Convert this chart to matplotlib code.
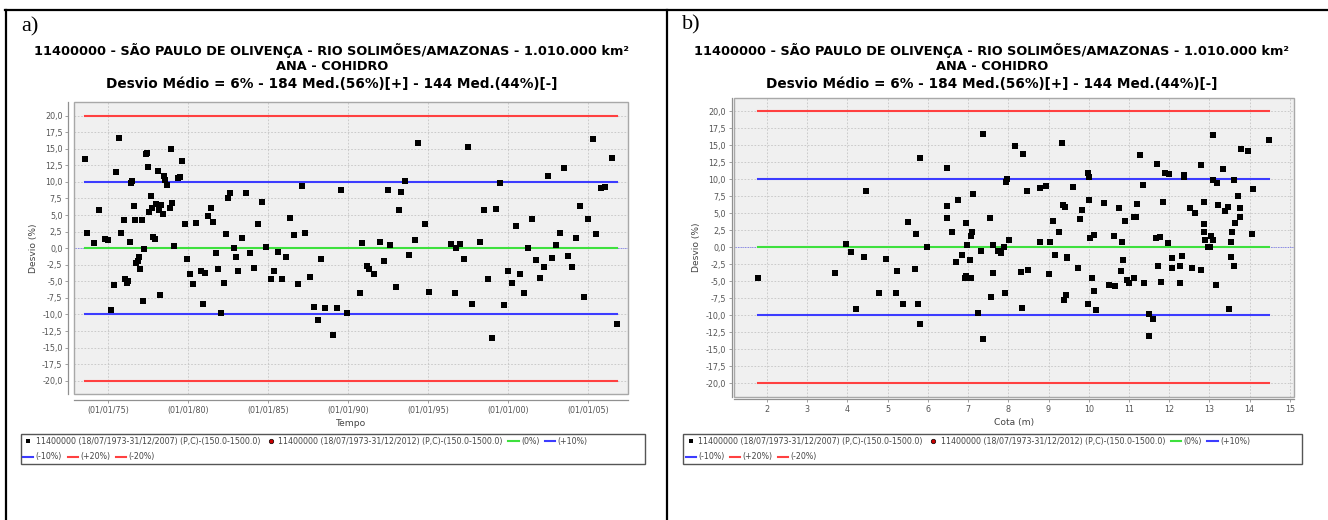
import matplotlib
matplotlib.use('Agg')
import matplotlib.pyplot as plt
from matplotlib.lines import Line2D
from matplotlib.patches import Rectangle
import numpy as np

# --- data ---
ano_a = [1973.56, 1973.69, 1974.13, 1974.44, 1974.79, 1974.96, 1975.19, 1975.33, 1975.50, 1975.67,
         1975.81, 1975.98, 1976.06, 1976.15, 1976.23, 1976.33, 1976.42, 1976.50, 1976.60, 1976.69,
         1976.75, 1976.83, 1976.90, 1977.00, 1977.08, 1977.17, 1977.25, 1977.33, 1977.42, 1977.50,
         1977.56, 1977.65, 1977.73, 1977.81, 1977.90, 1978.00, 1978.08, 1978.17, 1978.23, 1978.31,
         1978.40, 1978.48, 1978.56, 1978.67, 1978.83, 1978.92, 1979.00, 1979.08, 1979.33, 1979.46,
         1979.63, 1979.81, 1979.94, 1980.13, 1980.29, 1980.46, 1980.77, 1980.94, 1981.06, 1981.21,
         1981.40, 1981.56, 1981.71, 1981.88, 1982.04, 1982.23, 1982.38, 1982.46, 1982.58, 1982.85,
         1982.98, 1983.10, 1983.33, 1983.58, 1983.85, 1984.13, 1984.33, 1984.60, 1984.85, 1985.15,
         1985.35, 1985.63, 1985.88, 1986.10, 1986.35, 1986.60, 1986.85, 1987.10, 1987.33, 1987.60,
         1987.85, 1988.13, 1988.31, 1988.56, 1989.06, 1989.33, 1989.58, 1989.92, 1990.75, 1990.88,
         1991.19, 1991.29, 1991.63, 1991.98, 1992.21, 1992.46, 1992.60, 1992.96, 1993.17, 1993.29,
         1993.54, 1993.79, 1994.15, 1994.38, 1994.81, 1995.06, 1996.40, 1996.67, 1996.75, 1997.02,
         1997.27, 1997.50, 1997.77, 1998.25, 1998.50, 1998.73, 1999.00, 1999.27, 1999.52, 1999.75,
         2000.02, 2000.27, 2000.50, 2000.75, 2000.98, 2001.25, 2001.50, 2001.77, 2002.00, 2002.25,
         2002.48, 2002.75, 2003.00, 2003.27, 2003.50, 2003.75, 2004.02, 2004.27, 2004.52, 2004.77,
         2005.02, 2005.29, 2005.52, 2005.81, 2006.06, 2006.48, 2006.79]
desvio_a = [13.5, 2.3, 0.8, 5.8, 1.4, 1.2, -9.4, -5.6, 11.5, 16.6,
            2.3, 4.3, -4.6, -5.3, -4.9, 0.9, 9.8, 10.2, 6.4, 4.3,
            -2.3, -2.0, -1.4, -3.1, 4.2, -7.9, -0.1, 14.2, 14.4, 12.3,
            5.5, 7.9, 6.1, 1.7, 1.4, 6.7, 11.6, 5.8, -7.1, 6.5,
            5.2, 10.9, 10.3, 9.6, 6.1, 14.9, 6.8, 0.3, 10.6, 10.8,
            13.1, 3.7, -1.6, -3.9, -5.4, 3.8, -3.5, -8.4, -3.7, 4.9,
            6.1, 3.9, -0.8, -3.2, -9.8, -5.2, 2.1, 7.5, 8.3, 0.05,
            -1.3, -3.4, 1.6, 8.3, -0.7, -3.0, 3.6, 6.9, 0.2, -4.7,
            -3.5, -0.6, -4.6, -1.4, 4.5, 2.0, -5.4, 9.4, 2.3, -4.4,
            -8.9, -10.8, -1.7, -9.1, -13.1, -9.1, 8.8, -9.8, -6.7, 0.8,
            -2.7, -3.1, -3.9, 0.9, -2.0, 8.7, 0.45, -5.8, 5.7, 8.4,
            10.1, -1.0, 1.3, 15.9, 3.6, -6.6, 0.7, -6.7, -0.05, 0.7,
            -1.6, 15.3, -8.4, 0.9, 5.8, -4.6, -13.5, 5.9, 9.8, -8.5,
            -3.4, -5.2, 3.3, -3.9, -6.8, -0.05, 4.4, -1.8, -4.5, -2.9,
            10.9, -1.5, 0.55, 2.3, 12.1, -1.2, -2.8, 1.5, 6.3, -7.4,
            4.4, 16.5, 2.2, 9.0, 9.2, 13.6, -11.4]

cota_b = [1.78, 3.70, 3.96, 4.10, 4.21, 4.40, 4.46, 4.78, 4.95, 5.22,
          5.23, 5.37, 5.50, 5.69, 5.71, 5.76, 5.80, 5.80, 5.97, 6.48,
          6.48, 6.48, 6.61, 6.70, 6.75, 6.86, 6.92, 6.95, 6.95, 6.98,
          7.05, 7.06, 7.07, 7.10, 7.12, 7.24, 7.33, 7.36, 7.38, 7.54,
          7.57, 7.61, 7.61, 7.74, 7.82, 7.89, 7.92, 7.94, 7.97, 8.01,
          8.17, 8.31, 8.34, 8.37, 8.46, 8.48, 8.79, 8.79, 8.93, 9.00,
          9.03, 9.12, 9.17, 9.25, 9.33, 9.37, 9.39, 9.41, 9.44, 9.46,
          9.46, 9.62, 9.74, 9.79, 9.83, 9.97, 9.98, 10.00, 10.00, 10.02,
          10.09, 10.14, 10.14, 10.18, 10.39, 10.51, 10.63, 10.66, 10.76, 10.80,
          10.82, 10.86, 10.91, 10.94, 10.99, 11.13, 11.13, 11.17, 11.19, 11.27,
          11.36, 11.37, 11.51, 11.51, 11.59, 11.66, 11.70, 11.73, 11.77, 11.79,
          11.84, 11.89, 12.00, 11.98, 12.06, 12.08, 12.26, 12.28, 12.31, 12.37,
          12.38, 12.51, 12.57, 12.65, 12.78, 12.78, 12.86, 12.87, 12.87, 12.90,
          12.97, 13.01, 13.03, 13.08, 13.09, 13.10, 13.17, 13.20, 13.21, 13.34,
          13.38, 13.46, 13.48, 13.54, 13.54, 13.56, 13.61, 13.61, 13.64, 13.72,
          13.75, 13.77, 13.79, 13.96, 14.06, 14.08, 14.47]
desvio_b = [-4.5, -3.8, 0.5, -0.7, -9.1, -1.4, 8.3, -6.7, -1.7, -6.7,
            -3.5, -8.3, 3.7, -3.2, 2.0, -8.4, 13.1, -11.3, 0.0, 11.7,
            6.1, 4.3, 2.3, -2.2, 6.9, -1.1, -4.6, 3.6, -4.3, 0.3,
            -1.9, 1.6, -4.5, 2.3, 7.9, -9.7, -0.5, -13.5, 16.6, 4.3,
            -7.3, 0.3, -3.8, -0.6, -0.9, 0.1, -6.8, 9.6, 10.1, 1.1,
            14.9, -3.7, -9.0, 13.7, 8.3, -3.3, 8.7, 0.8, 9.0, -3.9,
            0.7, 3.8, -1.2, 2.3, 15.3, 6.2, -7.8, 5.9, -7.0, -1.4,
            -1.6, 8.8, -3.1, 4.2, 5.5, 10.9, -8.3, 10.3, 6.9, 1.3,
            -4.6, -6.5, 1.8, -9.2, 6.5, -5.5, 1.6, -5.7, 5.7, -3.5,
            0.8, -1.9, 3.9, -4.9, -5.2, 4.4, -4.5, 4.4, 6.4, 13.5,
            9.2, -5.3, -9.8, -13.0, -10.6, 1.3, 12.3, -2.7, 1.5, -5.1,
            6.7, 10.9, 10.8, 0.6, -3.0, -1.6, -5.2, -2.8, -1.3, 10.6,
            10.3, 5.7, -3.1, 5.0, 12.1, -3.4, 6.6, 3.4, 2.3, 1.0,
            0.0, 0.0, 1.7, 1.0, 16.5, 9.9, -5.5, 9.4, 6.2, 11.5,
            5.3, 5.9, -9.1, 0.7, -1.5, 2.3, -2.8, 9.9, 3.6, 7.5,
            5.8, 4.5, 14.4, 14.1, 2.0, 8.5, 15.8]

anos_tick = [1975, 1980, 1985, 1990, 1995, 2000, 2005]
anos_tick_lbl = ['(01/01/75)', '(01/01/80)', '(01/01/85)', '(01/01/90)',
                 '(01/01/95)', '(01/01/00)', '(01/01/05)']
cota_tick = list(range(2, 16))
y_ticks = np.arange(-20, 20.1, 2.5)

titulo = ['11400000 - SÃO PAULO DE OLIVENÇA - RIO SOLIMÕES/AMAZONAS - 1.010.000 km²',
          'ANA - COHIDRO',
          'Desvio Médio = 6% - 184 Med.(56%)[+] - 144 Med.(44%)[-]']
leg_lbl = ['11400000 (18/07/1973-31/12/2007) (P,C)-(150.0-1500.0)',
           '11400000 (18/07/1973-31/12/2012) (P,C)-(150.0-1500.0)',
           '(0%)', '(+10%)', '(-10%)', '(+20%)', '(-20%)']

W, H = 1328, 520
VERDE, AZUL, VERM = '#3ee03e', '#3c3cff', '#ff4040'
CINZA_TXT = '#555555'

fig = plt.figure(figsize=(W / 100, H / 100), dpi=100)


def fx(px):
    return px / W


def fy(py):
    return 1 - py / H


def painel(rect, x, y, xlim, xticks, xlabels, xlabel, off):
    ax = fig.add_axes([fx(rect[0]), fy(rect[3]), (rect[2] - rect[0]) / W, (rect[3] - rect[1]) / H])
    ax.set_facecolor('#f0f0f0')
    for s in ['top', 'right']:
        ax.spines[s].set_visible(False)
    for s in ['left', 'bottom']:
        ax.spines[s].set_position(('outward', off))
        ax.spines[s].set_color('#909090')
        ax.spines[s].set_linewidth(0.9)
    ax.add_patch(Rectangle((0, 0), 1, 1, transform=ax.transAxes, fill=False,
                           ec='#a8a8a8', lw=1.0, clip_on=False, zorder=5))
    ax.grid(True, color='#c4c4c4', ls=(0, (2, 2)), lw=0.6)
    ax.set_axisbelow(True)

    x0, x1 = min(x), max(x)
    ax.axhline(0, color='#3c3cff', lw=0.5, ls=(0, (1, 1.5)), zorder=1)
    ax.plot([x0, x1], [20, 20], color=VERM, lw=1.5, zorder=2)
    ax.plot([x0, x1], [-20, -20], color=VERM, lw=1.5, zorder=2)
    ax.plot([x0, x1], [10, 10], color=AZUL, lw=1.5, zorder=2)
    ax.plot([x0, x1], [-10, -10], color=AZUL, lw=1.5, zorder=2)
    ax.plot([x0, x1], [0, 0], color=VERDE, lw=1.5, zorder=2)
    ax.plot(x, y, 's', color='k', ms=3.7, mew=0, zorder=3)

    ax.set_xlim(*xlim)
    ax.set_ylim(-22, 22)
    ax.set_xticks(xticks)
    ax.set_xticklabels(xlabels)
    ax.set_yticks(y_ticks)
    ax.set_yticklabels([('%.1f' % v).replace('.', ',') for v in y_ticks])
    ax.tick_params(length=2, width=0.6, color='#909090', labelsize=5.8,
                   labelcolor=CINZA_TXT, pad=2)
    ax.set_xlabel(xlabel, fontsize=6.6, color='#444444', labelpad=3)
    ax.set_ylabel('Desvio (%)', fontsize=6.6, color='#444444', labelpad=3)
    return ax


painel((74.3, 102.3, 628.3, 394), ano_a, desvio_a, (1972.87, 2007.52),
       anos_tick, anos_tick_lbl, 'Tempo', 4.5)
painel((734, 97.7, 1294.3, 396.7), cota_b, desvio_b, (1.18, 15.11),
       cota_tick, [str(c) for c in cota_tick], 'Cota (m)', 1.8)

# titles and panel letters
for cx in [332, 992]:
    fig.text(fx(cx), fy(50), titulo[0], ha='center', va='center', fontsize=9.3,
             fontweight='bold')
    fig.text(fx(cx), fy(66.5), titulo[1], ha='center', va='center', fontsize=9.3,
             fontweight='bold')
    fig.text(fx(cx), fy(84.5), titulo[2], ha='center', va='center', fontsize=9.8,
             fontweight='bold')
fig.text(fx(21), fy(27), 'a)', ha='left', va='center', fontsize=16, family='Liberation Serif')
fig.text(fx(682), fy(25), 'b)', ha='left', va='center', fontsize=16, family='Liberation Serif')

# legends
h_all = [Line2D([], [], marker='s', ls='none', color='k', ms=3, mew=0),
         Line2D([], [], marker='o', ls='none', mfc='#cc0000', mec='k', mew=0.5, ms=3.2),
         Line2D([], [], color=VERDE, lw=1.5),
         Line2D([], [], color=AZUL, lw=1.5),
         Line2D([], [], color=AZUL, lw=1.5),
         Line2D([], [], color=VERM, lw=1.5),
         Line2D([], [], color=VERM, lw=1.5)]
for bx0, bx1 in [(20.7, 645), (683, 1301.7)]:
    fig.patches.append(Rectangle((fx(bx0), fy(464)), (bx1 - bx0) / W, 29.7 / H,
                                 transform=fig.transFigure, fill=False, ec='#555555', lw=1.0))
    for i0, i1, ry in [(0, 4, 441.7), (4, 7, 457)]:
        lg = fig.legend(h_all[i0:i1], leg_lbl[i0:i1], ncol=i1 - i0, loc='center left',
                        bbox_to_anchor=(fx(bx0 + 2.5), fy(ry)), frameon=False,
                        fontsize=5.7, handlelength=1.3, handletextpad=0.3,
                        columnspacing=0.7, borderpad=0, borderaxespad=0)
        for t in lg.get_texts():
            t.set_color('#444444')

# outer frame of the figure table
for xs, ys in [([5, W], [10, 10]), ([5.5, 5.5], [10, H]), ([667, 667], [10, H])]:
    fig.add_artist(Line2D([fx(v) for v in xs], [fy(v) for v in ys], color='k', lw=1.6))

fig.savefig('out.png', dpi=100)
